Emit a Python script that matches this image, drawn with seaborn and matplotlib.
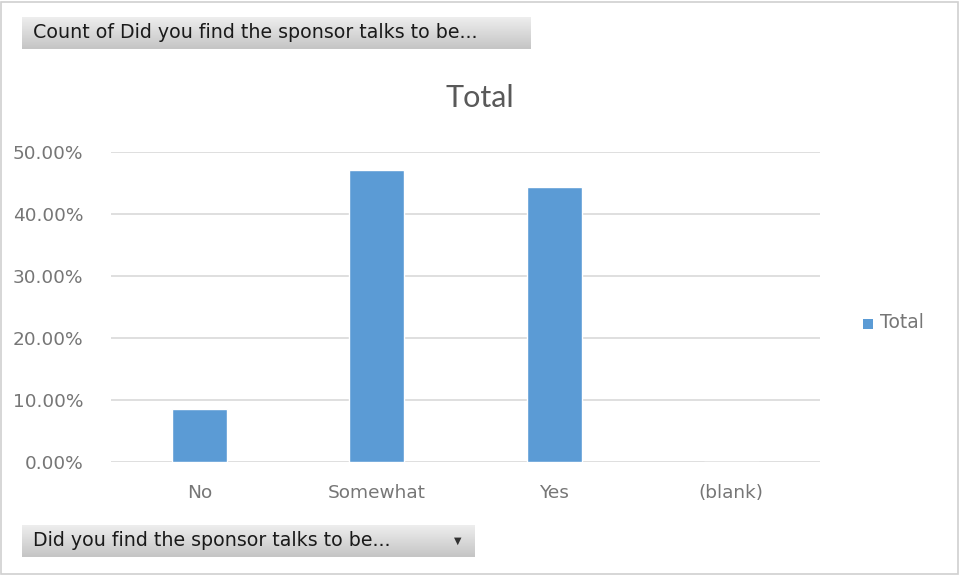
import numpy as np
import pandas as pd
import matplotlib
matplotlib.use('Agg')
import matplotlib.pyplot as plt
import seaborn as sns
from matplotlib.patches import Rectangle
from matplotlib.ticker import FuncFormatter

# Data
categories = ['No', 'Somewhat', 'Yes', '(blank)']
share = [0.0857, 0.4714, 0.4429, 0.0]
yticks = [0.0, 0.1, 0.2, 0.3, 0.4, 0.5]

df = pd.DataFrame({'answer': categories, 'share': share})

sns.set_theme(style='white')
plt.rcParams['font.family'] = ['DejaVu Sans']

fig = plt.figure(figsize=(9.61, 5.76), dpi=100)
W, H = 961, 576

def fx(px):
    return px / W

def fy(py):
    return 1 - py / H

# outer border of the chart
fig.patches.append(Rectangle((fx(1), fy(574)), fx(957), 572 / H, transform=fig.transFigure,
                             fill=False, edgecolor='#d0d0d0', linewidth=1.2))

# main plot
ax = fig.add_axes([fx(111), fy(462), fx(820 - 111), (462 - 152) / H])
sns.barplot(data=df, x='answer', y='share', color='#5B9BD5', width=0.31,
            saturation=1, ax=ax, label='Total', legend=False)
ax.set_ylim(0, 0.5)
ax.set_yticks(yticks)
ax.yaxis.set_major_formatter(FuncFormatter(lambda v, p: f'{v * 100:.2f}%'))
ax.grid(axis='y', color='#d9d9d9', linewidth=1.2)
ax.set_axisbelow(True)
for s in ax.spines.values():
    s.set_visible(False)
ax.set_xlabel('')
ax.set_ylabel('')
ax.tick_params(axis='both', length=0, labelsize=13.3, colors='#767676')
ax.tick_params(axis='x', pad=16)
ax.tick_params(axis='y', pad=20)

fig.text(fx(480), fy(98), 'Total', ha='center', va='center', fontsize=22,
         color='#595959', family=['Lato', 'DejaVu Sans'])

# legend
fig.patches.append(Rectangle((fx(863), fy(329)), fx(10), 10 / H, transform=fig.transFigure,
                             facecolor='#5B9BD5', edgecolor='none'))
fig.text(fx(880), fy(322), 'Total', ha='left', va='center', fontsize=13.5, color='#767676')

# pivot field buttons with a grey gradient
def field_button(x0, y0, x1, y1, text, arrow=False):
    bax = fig.add_axes([fx(x0), fy(y1), fx(x1 - x0), (y1 - y0) / H])
    grad = np.linspace(0.93, 0.77, 50).reshape(-1, 1)
    bax.imshow(grad, aspect='auto', cmap='gray', vmin=0, vmax=1, extent=(0, 1, 0, 1), origin='upper')
    bax.set_xlim(0, 1)
    bax.set_ylim(0, 1)
    bax.axis('off')
    fig.text(fx(x0 + 11), fy((y0 + y1) / 2), text, ha='left', va='center',
             fontsize=13.7, color='#1a1a1a')
    if arrow:
        fig.text(fx(x1 - 17), fy((y0 + y1) / 2), '\u25BC', ha='center', va='center',
                 fontsize=7, color='#333333')

field_button(22, 17, 531, 49, 'Count of Did you find the sponsor talks to be...')
field_button(22, 525, 475, 557, 'Did you find the sponsor talks to be...', arrow=True)

fig.savefig('out.png', dpi=100)
